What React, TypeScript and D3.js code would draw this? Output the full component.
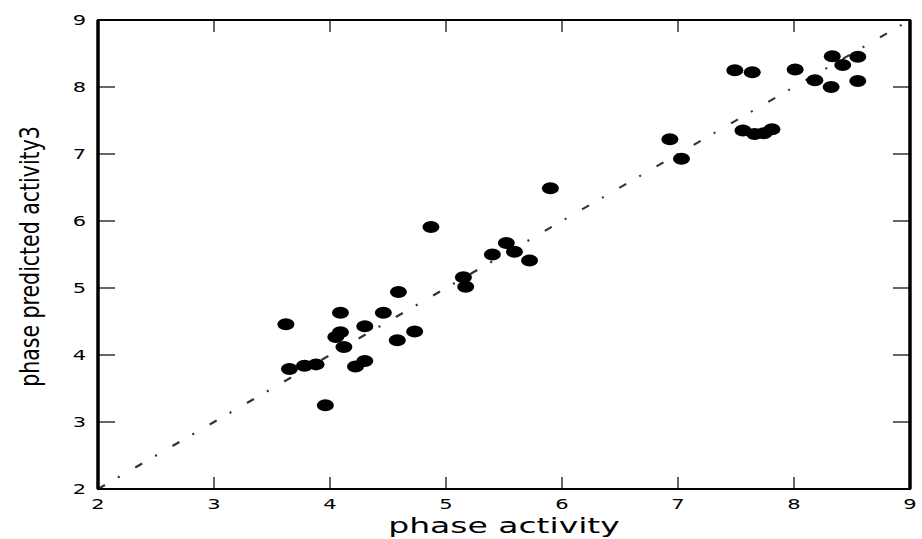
import React from 'react';
import * as d3 from 'd3';

const actual = [
  3.62, 3.65, 3.78, 3.88, 3.96, 4.09, 4.09, 4.05, 4.12, 4.22, 4.30, 4.30, 4.46,
  4.58, 4.73, 4.59, 4.87, 5.15, 5.17, 5.40, 5.52, 5.59, 5.72, 5.90, 6.93, 7.03,
  7.49, 7.64, 7.56, 7.66, 7.74, 7.81, 8.01, 8.18, 8.33, 8.42, 8.32, 8.55, 8.55,
];
const predicted = [
  4.46, 3.79, 3.84, 3.86, 3.25, 4.63, 4.34, 4.27, 4.12, 3.83, 3.91, 4.43, 4.63,
  4.22, 4.35, 4.94, 5.91, 5.16, 5.02, 5.50, 5.67, 5.54, 5.41, 6.49, 7.22, 6.93,
  8.25, 8.22, 7.35, 7.30, 7.31, 7.37, 8.26, 8.10, 8.46, 8.33, 8.00, 8.45, 8.09,
];
const ticks = [2, 3, 4, 5, 6, 7, 8, 9];
const identity = [2, 9];

const W = 922;
const H = 539;
const margin = { top: 20, right: 12, bottom: 50, left: 98 };
const stretch = 1.5; // the reference is squashed wide, text included

export default function App() {
  const x = d3.scaleLinear().domain([2, 9]).range([margin.left, W - margin.right]);
  const y = d3.scaleLinear().domain([2, 9]).range([H - margin.bottom, margin.top]);

  const diag = d3.line<number>()
    .x(d => x(d))
    .y(d => y(d))(identity);

  const x0 = x.range()[0];
  const x1 = x.range()[1];
  const y0 = y.range()[0];
  const y1 = y.range()[1];

  const font = '"DejaVu Sans", sans-serif';

  return (
    <div style={{ position: 'absolute', left: 0, top: 0 }}>
      <svg width={W} height={H} style={{ display: 'block', background: '#fff' }}>
        {/* identity line */}
        <path d={diag || ''} fill="none" stroke="#333" strokeWidth={2.2}
          strokeDasharray="8,15,2,18" />

        {/* points */}
        {actual.map((a, i) => (
          <ellipse key={i} cx={x(a)} cy={y(predicted[i])} rx={8.5} ry={6} fill="#000" />
        ))}

        {/* inward ticks on all four sides */}
        {ticks.slice(1, -1).map(t => (
          <g key={'t' + t} stroke="#000" strokeWidth={1.2}>
            <line x1={x(t)} x2={x(t)} y1={y0} y2={y0 - 12} />
            <line x1={x(t)} x2={x(t)} y1={y1} y2={y1 + 12} />
            <line x1={x0} x2={x0 + 17} y1={y(t)} y2={y(t)} />
            <line x1={x1} x2={x1 - 17} y1={y(t)} y2={y(t)} />
          </g>
        ))}

        {/* frame */}
        <rect x={x0} y={y1} width={x1 - x0} height={y0 - y1} fill="none" stroke="#000" strokeWidth={2} />
        <line x1={x0} x2={x0} y1={y1} y2={y0} stroke="#000" strokeWidth={3.5} />
        <line x1={x1} x2={x1} y1={y1} y2={y0} stroke="#000" strokeWidth={3.5} />

        {/* tick labels */}
        {ticks.map(t => (
          <text key={'xl' + t} transform={`translate(${x(t)},${y0 + 20}) scale(${stretch},1)`}
            textAnchor="middle" fontFamily={font} fontSize={14} fill="#000">{t}</text>
        ))}
        {ticks.map(t => (
          <text key={'yl' + t} transform={`translate(${x0 - 12},${y(t) + 5}) scale(${stretch},1)`}
            textAnchor="end" fontFamily={font} fontSize={14} fill="#000">{t}</text>
        ))}

        {/* axis titles */}
        <text transform={`translate(${(x0 + x1) / 2},${H - 6}) scale(${stretch},1)`}
          textAnchor="middle" fontFamily={font} fontSize={22} fill="#000">phase activity</text>
        <text transform={`translate(39,${(y0 + y1) / 2 + 2}) scale(1.3,1) rotate(-90)`}
          textAnchor="middle" fontFamily={font} fontSize={20.5} fill="#000">phase predicted activity3</text>
      </svg>
    </div>
  );
}
